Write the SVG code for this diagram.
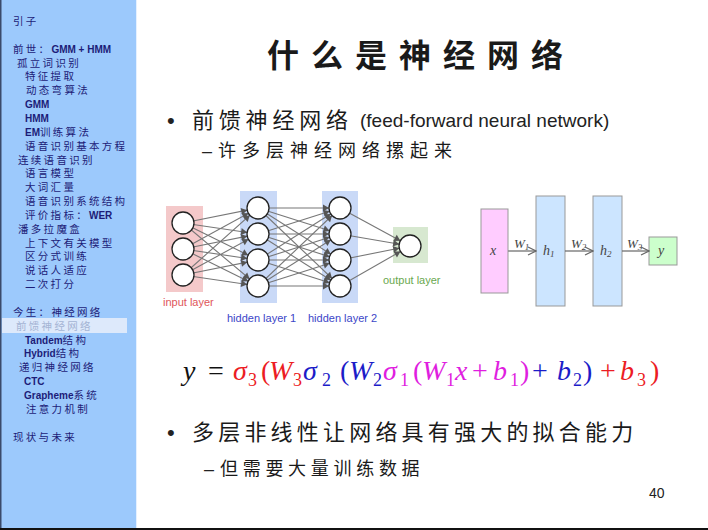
<svg xmlns="http://www.w3.org/2000/svg" width="708" height="530" viewBox="0 0 708 530">
<style>
.sb{font-family:"Noto Sans CJK SC","Liberation Sans",sans-serif;font-size:10.5px;fill:#1c1c78}
.c{letter-spacing:2.3px}
.l{font-family:"Liberation Sans",sans-serif;font-weight:bold;font-size:10px;letter-spacing:0}
.cn{font-family:"Noto Sans CJK SC",sans-serif;fill:#1a1a1a}
.en{font-family:"Liberation Sans",sans-serif;fill:#222}
.nc{fill:#fff;stroke:#222;stroke-width:1.3}
.e{stroke:#777;stroke-width:1.1;marker-end:url(#ah)}
.lbl{font-family:"Liberation Sans",sans-serif;font-size:11px}
.m{font-family:"Liberation Serif",serif;font-size:28px}
.mi{font-style:italic}
.sub{font-size:18px}
.bx{stroke:#999;stroke-width:1}
.dl{font-family:"Liberation Serif",serif;font-style:italic;fill:#444}
.ar{stroke:#666;stroke-width:1.2;fill:none;marker-end:url(#va)}
</style>
<defs>
<marker id="ah" viewBox="0 0 20 10" markerUnits="userSpaceOnUse" markerWidth="20" markerHeight="10" refX="19" refY="5" orient="auto">
<path d="M2,1.5 L8,5 L2,8.5 z" fill="#555"/>
</marker>
<marker id="va" viewBox="0 0 10 10" markerUnits="userSpaceOnUse" markerWidth="10" markerHeight="10" refX="9" refY="5" orient="auto">
<path d="M1,1 L9,5 L1,9" fill="none" stroke="#666" stroke-width="1.2"/>
</marker>
</defs>
<rect x="0" y="0" width="708" height="530" fill="#fff"/>
<g id="sidebar">
<rect x="0" y="0" width="136" height="528" fill="#9cc9fc"/>
<line x1="136.5" y1="0" x2="136.5" y2="528" stroke="#e4f0ff" stroke-width="1"/>
<line x1="0.75" y1="0" x2="0.75" y2="528" stroke="#3a4a6a" stroke-width="1.5"/>
<rect x="2" y="318" width="125" height="15" fill="#dde9fb"/>
<text class="sb" x="13" y="25"><tspan class="c">引子</tspan></text>
<text class="sb" x="13" y="52.7"><tspan class="c">前世：</tspan><tspan class="l">GMM + HMM</tspan></text>
<text class="sb" x="17" y="66.5"><tspan class="c">孤立词识别</tspan></text>
<text class="sb" x="25" y="80.4"><tspan class="c">特征提取</tspan></text>
<text class="sb" x="26" y="94.2"><tspan class="c">动态弯算法</tspan></text>
<text class="sb" x="25" y="108.1"><tspan class="l">GMM</tspan></text>
<text class="sb" x="25" y="122"><tspan class="l">HMM</tspan></text>
<text class="sb" x="25" y="135.8"><tspan class="l">EM</tspan><tspan class="c">训练算法</tspan></text>
<text class="sb" x="25" y="149.6"><tspan class="c">语音识别基本方程</tspan></text>
<text class="sb" x="18" y="163.5"><tspan class="c">连续语音识别</tspan></text>
<text class="sb" x="25" y="177.3"><tspan class="c">语言模型</tspan></text>
<text class="sb" x="25" y="191.2"><tspan class="c">大词汇量</tspan></text>
<text class="sb" x="25" y="205"><tspan class="c">语音识别系统结构</tspan></text>
<text class="sb" x="25" y="218.9"><tspan class="c">评价指标：</tspan><tspan class="l">WER</tspan></text>
<text class="sb" x="18" y="232.7"><tspan class="c">潘多拉魔盒</tspan></text>
<text class="sb" x="25" y="246.6"><tspan class="c">上下文有关模型</tspan></text>
<text class="sb" x="25" y="260.4"><tspan class="c">区分式训练</tspan></text>
<text class="sb" x="25" y="274.3"><tspan class="c">说话人适应</tspan></text>
<text class="sb" x="25" y="288.1"><tspan class="c">二次打分</tspan></text>
<text class="sb" x="13" y="315.8"><tspan class="c">今生：神经网络</tspan></text>
<text class="sb" x="16" y="329.7" style="fill:#a4b4d4"><tspan class="c">前馈神经网络</tspan></text>
<text class="sb" x="25" y="343.5"><tspan class="l">Tandem</tspan><tspan class="c">结构</tspan></text>
<text class="sb" x="24" y="357.4"><tspan class="l">Hybrid</tspan><tspan class="c">结构</tspan></text>
<text class="sb" x="19" y="371.2"><tspan class="c">递归神经网络</tspan></text>
<text class="sb" x="24" y="385.1"><tspan class="l">CTC</tspan></text>
<text class="sb" x="24" y="398.9"><tspan class="l">Grapheme</tspan><tspan class="c">系统</tspan></text>
<text class="sb" x="26" y="412.8"><tspan class="c">注意力机制</tspan></text>
<text class="sb" x="13" y="440.5"><tspan class="c">现状与未来</tspan></text>
</g>
<g id="title">
<text class="cn" x="267" y="67" font-size="32" font-weight="bold" letter-spacing="12">什么是神经网络</text>
</g>
<g id="bullets">
<text class="en" x="167" y="128" font-size="22">•</text>
<text class="cn" x="192" y="128" font-size="22" letter-spacing="4.8">前馈神经网络</text>
<text class="en" x="360" y="127" font-size="19">(feed-forward neural network)</text>
<text class="en" x="202" y="157" font-size="18">–</text>
<text class="cn" x="218" y="157" font-size="18" letter-spacing="6">许多层神经网络摞起来</text>
<text class="en" x="167" y="440" font-size="22">•</text>
<text class="cn" x="192" y="440" font-size="22" letter-spacing="4.2">多层非线性让网络具有强大的拟合能力</text>
<text class="en" x="204" y="475" font-size="18">–</text>
<text class="cn" x="220" y="475" font-size="18" letter-spacing="4.7">但需要大量训练数据</text>
<text class="en" x="649" y="498" font-size="14">40</text>
</g>
<g id="nn-layers">
<rect x="166" y="206" width="37" height="86" fill="#f4c9ca"/>
<rect x="240" y="191" width="37" height="112" fill="#c9d9f7"/>
<rect x="322" y="191" width="36" height="112" fill="#c9d9f7"/>
<rect x="393" y="227" width="35" height="36" fill="#d7e8d0"/>
<text class="lbl" x="163" y="306" fill="#e0565a">input layer</text>
<text class="lbl" x="227" y="322" fill="#3c46c8">hidden layer 1</text>
<text class="lbl" x="308" y="322" fill="#3c46c8">hidden layer 2</text>
<text class="lbl" x="383" y="284" fill="#6aa84f">output layer</text>
</g>
<g id="nn-connectors">
<line class="e" x1="183" y1="223" x2="258" y2="208"/>
<line class="e" x1="183" y1="223" x2="258" y2="234"/>
<line class="e" x1="183" y1="223" x2="258" y2="260"/>
<line class="e" x1="183" y1="223" x2="258" y2="286"/>
<line class="e" x1="183" y1="249" x2="258" y2="208"/>
<line class="e" x1="183" y1="249" x2="258" y2="234"/>
<line class="e" x1="183" y1="249" x2="258" y2="260"/>
<line class="e" x1="183" y1="249" x2="258" y2="286"/>
<line class="e" x1="183" y1="275" x2="258" y2="208"/>
<line class="e" x1="183" y1="275" x2="258" y2="234"/>
<line class="e" x1="183" y1="275" x2="258" y2="260"/>
<line class="e" x1="183" y1="275" x2="258" y2="286"/>
<line class="e" x1="258" y1="208" x2="340" y2="208"/>
<line class="e" x1="258" y1="208" x2="340" y2="234"/>
<line class="e" x1="258" y1="208" x2="340" y2="260"/>
<line class="e" x1="258" y1="208" x2="340" y2="286"/>
<line class="e" x1="258" y1="234" x2="340" y2="208"/>
<line class="e" x1="258" y1="234" x2="340" y2="234"/>
<line class="e" x1="258" y1="234" x2="340" y2="260"/>
<line class="e" x1="258" y1="234" x2="340" y2="286"/>
<line class="e" x1="258" y1="260" x2="340" y2="208"/>
<line class="e" x1="258" y1="260" x2="340" y2="234"/>
<line class="e" x1="258" y1="260" x2="340" y2="260"/>
<line class="e" x1="258" y1="260" x2="340" y2="286"/>
<line class="e" x1="258" y1="286" x2="340" y2="208"/>
<line class="e" x1="258" y1="286" x2="340" y2="234"/>
<line class="e" x1="258" y1="286" x2="340" y2="260"/>
<line class="e" x1="258" y1="286" x2="340" y2="286"/>
<line class="e" x1="340" y1="208" x2="410" y2="246"/>
<line class="e" x1="340" y1="234" x2="410" y2="246"/>
<line class="e" x1="340" y1="260" x2="410" y2="246"/>
<line class="e" x1="340" y1="286" x2="410" y2="246"/>
</g>
<g id="in1"><circle class="nc" cx="183" cy="223" r="11"/></g>
<g id="in2"><circle class="nc" cx="183" cy="249" r="11"/></g>
<g id="in3"><circle class="nc" cx="183" cy="275" r="11"/></g>
<g id="h1n1"><circle class="nc" cx="258" cy="208" r="11"/></g>
<g id="h1n2"><circle class="nc" cx="258" cy="234" r="11"/></g>
<g id="h1n3"><circle class="nc" cx="258" cy="260" r="11"/></g>
<g id="h1n4"><circle class="nc" cx="258" cy="286" r="11"/></g>
<g id="h2n1"><circle class="nc" cx="340" cy="208" r="11"/></g>
<g id="h2n2"><circle class="nc" cx="340" cy="234" r="11"/></g>
<g id="h2n3"><circle class="nc" cx="340" cy="260" r="11"/></g>
<g id="h2n4"><circle class="nc" cx="340" cy="286" r="11"/></g>
<g id="out1"><circle class="nc" cx="410" cy="246" r="11"/></g>
<g id="blk-x"><rect class="bx" x="481" y="209" width="27" height="84" fill="#ffccff"/><text class="dl" x="490" y="255" font-size="14">x</text></g>
<g id="blk-h1"><rect class="bx" x="536" y="196" width="29" height="110" fill="#cce5ff"/><text class="dl" x="543" y="255" font-size="14">h<tspan font-size="9" dy="2">1</tspan></text></g>
<g id="blk-h2"><rect class="bx" x="593" y="196" width="29" height="110" fill="#cce5ff"/><text class="dl" x="600" y="255" font-size="14">h<tspan font-size="9" dy="2">2</tspan></text></g>
<g id="blk-y"><rect class="bx" x="649" y="237" width="28" height="28" fill="#ccffcc"/><text class="dl" x="658" y="255" font-size="14">y</text></g>
<g id="blk-connectors">
<line class="ar" x1="508" y1="251" x2="536" y2="251"/>
<line class="ar" x1="565" y1="251" x2="593" y2="251"/>
<line class="ar" x1="622" y1="251" x2="649" y2="251"/>
<text class="dl" x="514" y="248" font-size="13">W<tspan font-size="9" dy="2">1</tspan></text>
<text class="dl" x="571" y="248" font-size="13">W<tspan font-size="9" dy="2">2</tspan></text>
<text class="dl" x="627" y="248" font-size="13">W<tspan font-size="9" dy="2">3</tspan></text>
</g>
<g id="formula" class="m">
<text x="183" y="380" class="mi" fill="#111">y</text>
<text x="208" y="380" fill="#111">=</text>
<g fill="#ec1c24">
<text x="233" y="380" class="mi">σ</text><text x="248" y="386" class="sub">3</text>
<text x="261" y="380">(</text>
<text x="269" y="380" class="mi">W</text><text x="293" y="386" class="sub">3</text>
<text x="600" y="380">+</text>
<text x="620" y="380" class="mi">b</text><text x="637" y="386" class="sub">3</text>
<text x="650" y="380">)</text>
</g>
<g fill="#1c1cc8">
<text x="303" y="380" class="mi">σ</text><text x="322" y="386" class="sub">2</text>
<text x="340" y="380">(</text>
<text x="349" y="380" class="mi">W</text><text x="373" y="386" class="sub">2</text>
<text x="532" y="380">+</text>
<text x="557" y="380" class="mi">b</text><text x="573" y="386" class="sub">2</text>
<text x="583" y="380">)</text>
</g>
<g fill="#e01ee0">
<text x="383" y="380" class="mi">σ</text><text x="400" y="386" class="sub">1</text>
<text x="413" y="380">(</text>
<text x="422" y="380" class="mi">W</text><text x="446" y="386" class="sub">1</text>
<text x="455" y="380" class="mi">x</text>
<text x="472" y="380">+</text>
<text x="493" y="380" class="mi">b</text><text x="510" y="386" class="sub">1</text>
<text x="520" y="380">)</text>
</g>
</g>
<rect x="0" y="528" width="708" height="2" fill="#111"/>
</svg>
